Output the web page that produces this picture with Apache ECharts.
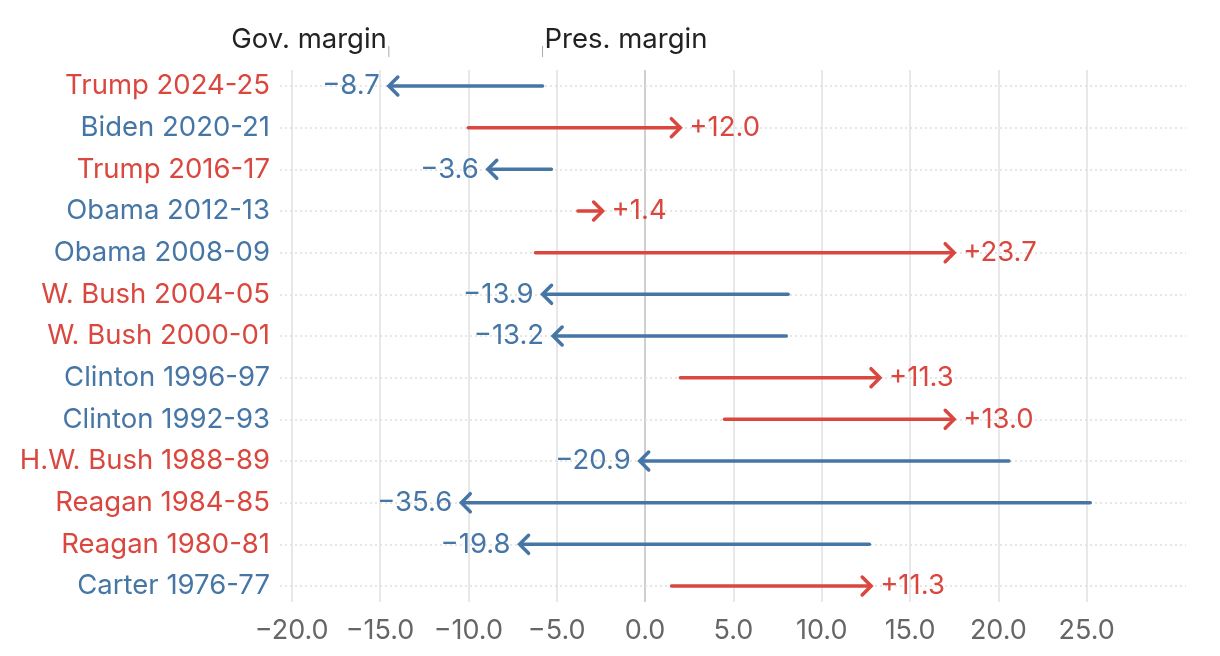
<!DOCTYPE html>
<html><head><meta charset="utf-8">
<script src="https://cdn.jsdelivr.net/npm/echarts@6/dist/echarts.min.js"></script>
<style>html,body{margin:0;padding:0;background:#fff}#c{width:1220px;height:656px}</style>
</head><body><div id="c"></div>
<script>
const categories = ['Trump 2024-25','Biden 2020-21','Trump 2016-17','Obama 2012-13','Obama 2008-09','W. Bush 2004-05','W. Bush 2000-01','Clinton 1996-97','Clinton 1992-93','H.W. Bush 1988-89','Reagan 1984-85','Reagan 1980-81','Carter 1976-77'];
const presParty = ['R','D','R','D','D','R','R','D','D','R','R','R','D'];
const presMargin = [-5.8, -10.0, -5.3, -3.8, -6.2, 8.1, 8.0, 2.0, 4.5, 20.6, 25.2, 12.7, 1.5];
const govMargin = [-14.5, 2.0, -8.9, -2.4, 17.5, -5.8, -5.2, 13.3, 17.5, -0.3, -10.4, -7.1, 12.8];
const shift = [-8.7, 12.0, -3.6, 1.4, 23.7, -13.9, -13.2, 11.3, 13.0, -20.9, -35.6, -19.8, 11.3];
const xTicks = [-20, -15, -10, -5, 0, 5, 10, 15, 20, 25];

const RED = '#d9473f', BLUE = '#4676a5';
const FONT = 'Inter, "Noto Sans", sans-serif';
const FS = 27.5;
const fmt = v => (v < 0 ? '\u2212' : '') + Math.abs(v).toFixed(1);
const fmtShift = v => (v < 0 ? '\u2212' : '+') + Math.abs(v).toFixed(1);

const rows = categories.map((c, i) => [presMargin[i], govMargin[i], i, shift[i]]);

const chart = echarts.init(document.getElementById('c'));
chart.setOption({
  animation: false,
  grid: { left: 280, right: 34, top: 70, bottom: 54, containLabel: false },
  xAxis: {
    type: 'value', min: -20.66, max: 30.62,
    axisLine: { show: false }, axisTick: { show: false }, splitLine: { show: false },
    axisLabel: { customValues: xTicks, formatter: v => fmt(v), color: '#666', fontSize: 27, fontFamily: FONT, margin: 15 }
  },
  yAxis: {
    type: 'value', inverse: true, min: -0.384, max: 12.384,
    axisLine: { show: false }, axisTick: { show: false }, splitLine: { show: false },
    axisLabel: {
      customValues: categories.map((c, i) => i),
      formatter: v => '{' + presParty[Math.round(v)] + '|' + categories[Math.round(v)] + '}',
      margin: 10,
      rich: {
        R: { color: RED, fontSize: FS, fontFamily: FONT },
        D: { color: BLUE, fontSize: FS, fontFamily: FONT }
      }
    }
  },
  series: [
    {
      type: 'line', data: [], silent: true, z: 1,
      markLine: {
        silent: true, symbol: ['none', 'none'], label: { show: false },
        data: xTicks.map(v => ({ xAxis: v, lineStyle: { color: v === 0 ? '#cfcfcf' : '#e8e8e8', width: 2, type: 'solid' } }))
          .concat(categories.map((c, i) => ({ yAxis: i, lineStyle: { color: '#dedede', width: 1.5, type: [2, 3] } })))
      }
    },
    {
      type: 'custom', z: 5, data: rows,
      renderItem: (params, api) => {
        const p = api.value(0), g = api.value(1), r = api.value(2), s = api.value(3);
        const a = api.coord([p, r]), b = api.coord([g, r]);
        const dir = g >= p ? 1 : -1;
        const col = s >= 0 ? RED : BLUE;
        const ah = 9;
        const children = [
          { type: 'line', shape: { x1: a[0], y1: a[1], x2: b[0] - dir * 1.5, y2: b[1] }, style: { stroke: col, lineWidth: 3.5, lineCap: 'round' } },
          { type: 'polyline', shape: { points: [[b[0] - dir * ah, b[1] - ah], [b[0], b[1]], [b[0] - dir * ah, b[1] + ah]] }, style: { stroke: col, lineWidth: 3.5, fill: null, lineCap: 'round', lineJoin: 'miter' } },
          { type: 'text', x: b[0] + dir * 9, y: b[1], style: { text: fmtShift(s), fill: col, font: FS + 'px ' + FONT, align: dir > 0 ? 'left' : 'right', verticalAlign: 'middle' } }
        ];
        if (params.dataIndex === 0) {
          children.push(
            { type: 'text', x: b[0] - 2, y: 40, style: { text: 'Gov. margin', fill: '#222', font: FS + 'px ' + FONT, align: 'right', verticalAlign: 'middle' } },
            { type: 'text', x: a[0] + 2, y: 40, style: { text: 'Pres. margin', fill: '#222', font: FS + 'px ' + FONT, align: 'left', verticalAlign: 'middle' } },
            { type: 'line', shape: { x1: b[0], y1: 46, x2: b[0], y2: 57 }, style: { stroke: '#aaa', lineWidth: 1 } },
            { type: 'line', shape: { x1: a[0], y1: 46, x2: a[0], y2: 57 }, style: { stroke: '#aaa', lineWidth: 1 } }
          );
        }
        return { type: 'group', children };
      }
    }
  ]
});
</script></body></html>
